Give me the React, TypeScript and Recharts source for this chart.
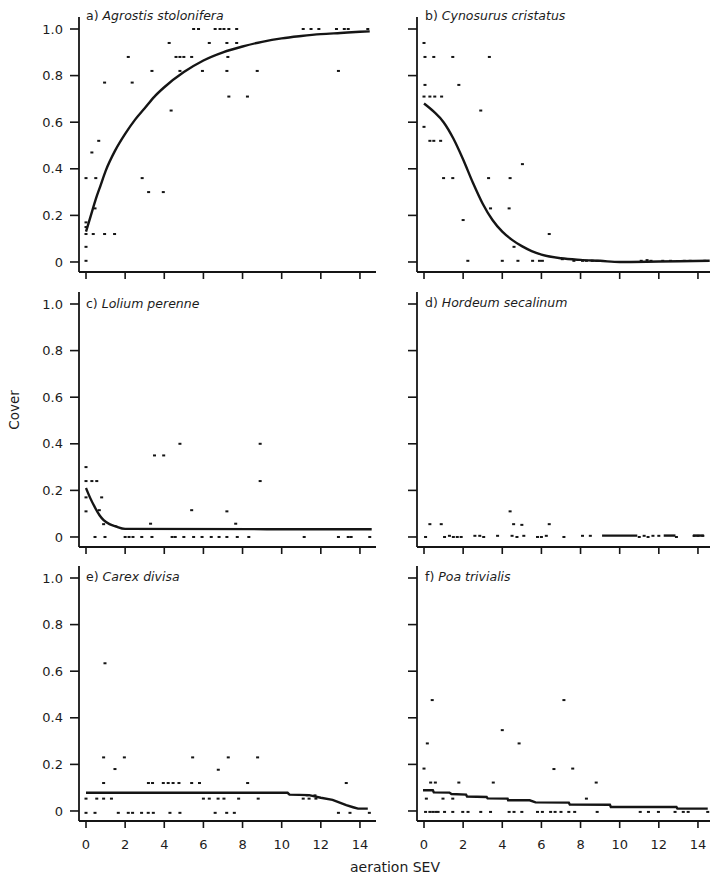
import React from 'react';
import { ScatterChart, Scatter, XAxis, YAxis } from 'recharts';

type Pt = [number, number];

const X_TICKS = [0, 2, 4, 6, 8, 10, 12, 14];
const Y_TICKS = [0, 0.2, 0.4, 0.6, 0.8, 1.0];
const X_DOMAIN: [number, number] = [-0.358, 14.82];
const Y_DOMAIN: [number, number] = [-0.043, 1.0515];

// a) Agrostis stolonifera
const agrostisPoints: Pt[] = [
  [0, 0.005], [0, 0.065], [0, 0.12], [0, 0.15], [0, 0.17], [0, 0.36], [0.5, 0.36], [0.3, 0.47],
  [0.65, 0.52], [0.95, 0.77], [0.37, 0.12], [0.95, 0.12], [1.46, 0.12], [0.46, 0.23], [2.16, 0.88],
  [2.36, 0.77], [2.87, 0.36], [3.2, 0.3], [3.95, 0.3], [3.37, 0.82], [4.25, 0.94], [4.35, 0.65],
  [4.6, 0.88], [4.8, 0.88], [5.0, 0.88], [5.4, 0.88], [4.8, 0.82], [5.5, 1.0], [5.75, 1.0],
  [5.95, 0.82], [6.3, 0.94], [6.6, 1.0], [6.85, 1.0], [7.05, 1.0], [7.3, 1.0], [7.7, 1.0],
  [7.2, 0.94], [7.7, 0.94], [7.25, 0.88], [7.2, 0.82], [7.3, 0.71], [8.25, 0.71], [8.75, 0.82],
  [11.1, 1.0], [11.5, 1.0], [11.9, 1.0], [12.8, 1.0], [13.2, 1.0], [13.4, 1.0], [12.9, 0.82], [14.4, 1.0],
];
const agrostisCurve: Pt[] = [
  [0, 0.13], [0.25, 0.2], [0.5, 0.27], [0.75, 0.33], [1, 0.39], [1.5, 0.48], [2, 0.55], [2.5, 0.61],
  [3, 0.66], [3.5, 0.71], [4, 0.75], [5, 0.815], [6, 0.865], [7, 0.9], [8, 0.925], [9, 0.945],
  [10, 0.96], [11, 0.97], [12, 0.978], [13, 0.983], [14, 0.988], [14.5, 0.99],
];

// b) Cynosurus cristatus
const cynosurusPoints: Pt[] = [
  [0, 0.94], [0.05, 0.88], [0.5, 0.88], [1.47, 0.88], [3.34, 0.88], [0.05, 0.76], [1.78, 0.76],
  [0, 0.71], [0.3, 0.71], [0.55, 0.71], [0.9, 0.71], [2.9, 0.65], [0, 0.58], [0.3, 0.52], [0.5, 0.52],
  [0.85, 0.52], [5.03, 0.42], [1.0, 0.36], [1.47, 0.36], [3.3, 0.36], [4.4, 0.36], [3.4, 0.23],
  [4.35, 0.23], [2.0, 0.18], [6.4, 0.12], [4.6, 0.065],
  [2.24, 0.005], [4.0, 0.005], [4.8, 0.005], [5.55, 0.005], [5.9, 0.005], [6.05, 0.005], [7.07, 0.012],
  [7.66, 0.005], [8.1, 0.005], [8.3, 0.005], [8.6, 0.005], [8.85, 0.005], [11.1, 0.005], [11.4, 0.008],
  [11.6, 0.005], [12.2, 0.005], [12.6, 0.005], [13.3, 0.005], [13.6, 0.005], [14.35, 0.005],
];
const cynosurusCurve: Pt[] = [
  [0, 0.68], [0.5, 0.645], [1, 0.6], [1.5, 0.53], [2, 0.44], [2.5, 0.34], [3, 0.25], [3.5, 0.18],
  [4, 0.13], [4.5, 0.095], [5, 0.068], [5.5, 0.047], [6, 0.032], [7, 0.016], [8, 0.009], [9, 0.005],
  [10, 0.0], [12, 0.002], [14.6, 0.005],
];

// c) Lolium perenne
const loliumPoints: Pt[] = [
  [0, 0.3], [0, 0.24], [0.3, 0.24], [0.55, 0.24], [0, 0.17], [0.8, 0.17], [0, 0.11], [0.68, 0.115],
  [0.9, 0.055], [3.5, 0.35], [3.97, 0.35], [4.8, 0.4], [8.9, 0.4], [8.9, 0.24], [5.4, 0.115],
  [7.2, 0.11], [3.3, 0.057], [7.65, 0.057],
  [0.46, 0], [0.97, 0], [2.0, 0], [2.2, 0], [2.4, 0], [2.85, 0], [3.37, 0], [4.4, 0], [4.56, 0],
  [5.0, 0], [5.5, 0], [5.93, 0], [6.4, 0], [6.8, 0], [7.2, 0], [7.73, 0], [8.32, 0], [11.15, 0],
  [12.9, 0], [13.4, 0], [13.55, 0], [14.5, 0],
];
const loliumCurve: Pt[] = [
  [0, 0.21], [0.2, 0.17], [0.45, 0.128], [0.7, 0.092], [0.9, 0.072], [1.2, 0.055], [1.5, 0.046],
  [2, 0.035], [14.6, 0.033],
];

// d) Hordeum secalinum
const hordeumPoints: Pt[] = [
  [0.08, 0], [0.3, 0.055], [0.88, 0.055], [1.05, 0], [1.3, 0.005], [1.5, 0], [1.7, 0], [1.9, 0],
  [2.6, 0.005], [2.85, 0.005], [3.05, 0], [3.76, 0.005], [4.4, 0.11], [4.58, 0.055], [5.0, 0.052],
  [4.5, 0.005], [4.75, 0], [5.1, 0.005], [5.8, 0], [6.0, 0], [6.25, 0.005], [6.4, 0.055], [7.15, 0],
  [8.1, 0.005], [8.5, 0.005], [11.0, 0], [11.25, 0.005], [11.45, 0], [11.7, 0.005], [12.0, 0.005],
  [12.9, 0], [13.8, 0.005], [14.0, 0.005], [14.25, 0.005],
];
const hordeumCurveA: Pt[] = [[9.1, 0.006], [10.9, 0.006]];
const hordeumCurveB: Pt[] = [[12.25, 0.006], [12.85, 0.006]];
const hordeumCurveC: Pt[] = [[13.75, 0.006], [14.3, 0.006]];

// e) Carex divisa
const carexPoints: Pt[] = [
  [0.97, 0.634], [0.9, 0.23], [1.96, 0.23], [5.45, 0.23], [7.27, 0.23], [8.77, 0.23], [1.48, 0.18],
  [6.76, 0.177], [0.9, 0.12], [3.19, 0.12], [3.4, 0.12], [3.95, 0.12], [4.2, 0.12], [4.45, 0.12],
  [4.75, 0.12], [5.4, 0.12], [5.8, 0.12], [8.26, 0.12], [13.3, 0.12],
  [0, 0.053], [0.55, 0.053], [0.9, 0.053], [1.3, 0.053], [6.0, 0.053], [6.3, 0.053], [6.75, 0.053],
  [7.05, 0.053], [7.8, 0.053], [8.8, 0.053], [11.1, 0.053], [11.4, 0.053], [11.75, 0.053],
  [11.3, 0.067], [11.7, 0.067],
  [0, -0.008], [0.46, -0.008], [1.65, -0.008], [2.16, -0.008], [2.38, -0.008], [2.84, -0.008],
  [3.18, -0.008], [3.44, -0.008], [4.29, -0.008], [4.8, -0.008], [6.6, -0.008], [7.19, -0.008],
  [7.58, -0.008], [12.9, -0.008], [13.49, -0.008], [14.48, -0.008],
];
const carexCurve: Pt[] = [
  [0, 0.078], [10.3, 0.078], [10.4, 0.07], [11.4, 0.068], [12.0, 0.057], [12.6, 0.048],
  [13.0, 0.035], [13.3, 0.025], [13.65, 0.016], [13.9, 0.01], [14.4, 0.01],
];

// f) Poa trivialis
const poaPoints: Pt[] = [
  [0.42, 0.476], [7.15, 0.476], [4.0, 0.347], [0.17, 0.29], [4.86, 0.29], [0, 0.182], [6.64, 0.18],
  [7.6, 0.182], [0.34, 0.122], [0.58, 0.122], [1.78, 0.122], [3.54, 0.122], [8.8, 0.122],
  [0.12, 0.053], [0.97, 0.053], [1.47, 0.053], [8.3, 0.053],
  [0.08, -0.004], [0.3, -0.004], [0.45, -0.004], [0.6, -0.004], [0.72, -0.004], [1.05, -0.004],
  [1.47, -0.004], [1.98, -0.004], [2.25, -0.004], [2.9, -0.004], [3.4, -0.004], [4.35, -0.004],
  [4.6, -0.004], [5.0, -0.004], [5.8, -0.004], [6.05, -0.004], [6.47, -0.004], [6.7, -0.004],
  [7.0, -0.004], [7.4, -0.004], [7.7, -0.004], [8.85, -0.004], [11.05, -0.004], [11.47, -0.004],
  [11.98, -0.004], [12.83, -0.004], [13.25, -0.004], [13.5, -0.004], [14.5, -0.004],
];
const poaCurve: Pt[] = [
  [-0.05, 0.089], [0.45, 0.089], [0.5, 0.08], [1.3, 0.079], [1.4, 0.073], [2.15, 0.07], [2.2, 0.062],
  [3.2, 0.06], [3.25, 0.054], [4.27, 0.053], [4.3, 0.046], [5.4, 0.046], [5.7, 0.037], [7.4, 0.036],
  [7.45, 0.028], [9.5, 0.027], [9.55, 0.017], [12.9, 0.017], [12.95, 0.01], [14.5, 0.01],
];

const toObj = (pts: Pt[]) => pts.map(([x, y]) => ({ x, y }));

const INK = '#151515';
const FONT = "'DejaVu Sans', sans-serif";

const PointShape = (props: any) => (
  <rect x={props.cx - 1.5} y={props.cy - 1} width={3} height={2} fill={INK} />
);
const NoShape = () => <g />;
const NoTick = () => <g />;

const fmtY = (v: number) => (v === 0 ? '0' : v.toFixed(1));

const panels = [
  { key: 'a', label: 'a)', name: 'Agrostis stolonifera', col: 0, row: 0, points: agrostisPoints, curves: [agrostisCurve], smooth: true, titleY: 16 },
  { key: 'b', label: 'b)', name: 'Cynosurus cristatus', col: 1, row: 0, points: cynosurusPoints, curves: [cynosurusCurve], smooth: true, titleY: 16 },
  { key: 'c', label: 'c)', name: 'Lolium perenne', col: 0, row: 1, points: loliumPoints, curves: [loliumCurve], smooth: true, titleY: 304 },
  { key: 'd', label: 'd)', name: 'Hordeum secalinum', col: 1, row: 1, points: hordeumPoints, curves: [hordeumCurveA, hordeumCurveB, hordeumCurveC], smooth: false, titleY: 303 },
  { key: 'e', label: 'e)', name: 'Carex divisa', col: 0, row: 2, points: carexPoints, curves: [carexCurve], smooth: false, titleY: 577 },
  { key: 'f', label: 'f)', name: 'Poa trivialis', col: 1, row: 2, points: poaPoints, curves: [poaCurve], smooth: false, titleY: 577 },
];

const COLS = [
  { left: 0, width: 380, yWidth: 79, right: 4, titleX: 86 },
  { left: 377, width: 340, yWidth: 40, right: 3, titleX: 425 },
];
const ROW_TOPS = [17, 292, 566];
const PLOT_H = 255;

function Panel({ p }: { p: (typeof panels)[number] }) {
  const c = COLS[p.col];
  const bottom = p.row === 2;
  const xH = bottom ? 50 : 12;
  const h = PLOT_H + xH;
  const tickStyle = { fill: '#1c1c1c', fontSize: 13, fontFamily: FONT };
  return (
    <div style={{ position: 'absolute', left: c.left, top: ROW_TOPS[p.row], width: c.width, height: h }}>
      <ScatterChart width={c.width} height={h} margin={{ top: 0, right: c.right, bottom: 0, left: 0 }}>
        <XAxis
          type="number"
          dataKey="x"
          domain={X_DOMAIN}
          allowDataOverflow
          ticks={X_TICKS}
          height={xH}
          tickSize={7}
          tickMargin={12}
          axisLine={{ stroke: INK, strokeWidth: 1.8 }}
          tickLine={{ stroke: INK, strokeWidth: 1.6 }}
          tick={bottom ? tickStyle : NoTick}
        />
        <YAxis
          type="number"
          dataKey="y"
          domain={Y_DOMAIN}
          allowDataOverflow
          ticks={Y_TICKS}
          width={c.yWidth}
          tickSize={9}
          tickMargin={7}
          tickFormatter={fmtY}
          axisLine={{ stroke: INK, strokeWidth: 1.8 }}
          tickLine={{ stroke: INK, strokeWidth: 1.6 }}
          tick={p.col === 0 ? tickStyle : NoTick}
        />
        <Scatter data={toObj(p.points)} shape={PointShape} isAnimationActive={false} />
        {p.curves.map((cv, i) => (
          <Scatter
            key={i}
            data={toObj(cv)}
            shape={NoShape}
            line={{ stroke: INK, strokeWidth: 2.4 }}
            lineJointType={p.smooth ? 'monotoneX' : 'linear'}
            isAnimationActive={false}
          />
        ))}
      </ScatterChart>
    </div>
  );
}

export default function App() {
  return (
    <div
      style={{
        position: 'absolute',
        left: 0,
        top: 0,
        width: 710,
        height: 881,
        overflow: 'hidden',
        background: '#fff',
        fontFamily: FONT,
        color: '#1c1c1c',
      }}
    >
      {panels.map((p) => (
        <Panel key={p.key} p={p} />
      ))}
      {panels.map((p) => (
        <div
          key={'t' + p.key}
          style={{
            position: 'absolute',
            left: COLS[p.col].titleX,
            top: p.titleY - 7,
            fontSize: 12.5,
            lineHeight: '14px',
            whiteSpace: 'nowrap',
          }}
        >
          {p.label} <i>{p.name}</i>
        </div>
      ))}
      <div
        style={{
          position: 'absolute',
          left: 14 - 30,
          top: 410 - 8,
          width: 60,
          height: 16,
          lineHeight: '16px',
          fontSize: 13.5,
          textAlign: 'center',
          transform: 'rotate(-90deg)',
        }}
      >
        Cover
      </div>
      <div
        style={{
          position: 'absolute',
          left: 295,
          top: 867 - 8,
          width: 200,
          lineHeight: '16px',
          fontSize: 14,
          textAlign: 'center',
        }}
      >
        aeration SEV
      </div>
    </div>
  );
}
